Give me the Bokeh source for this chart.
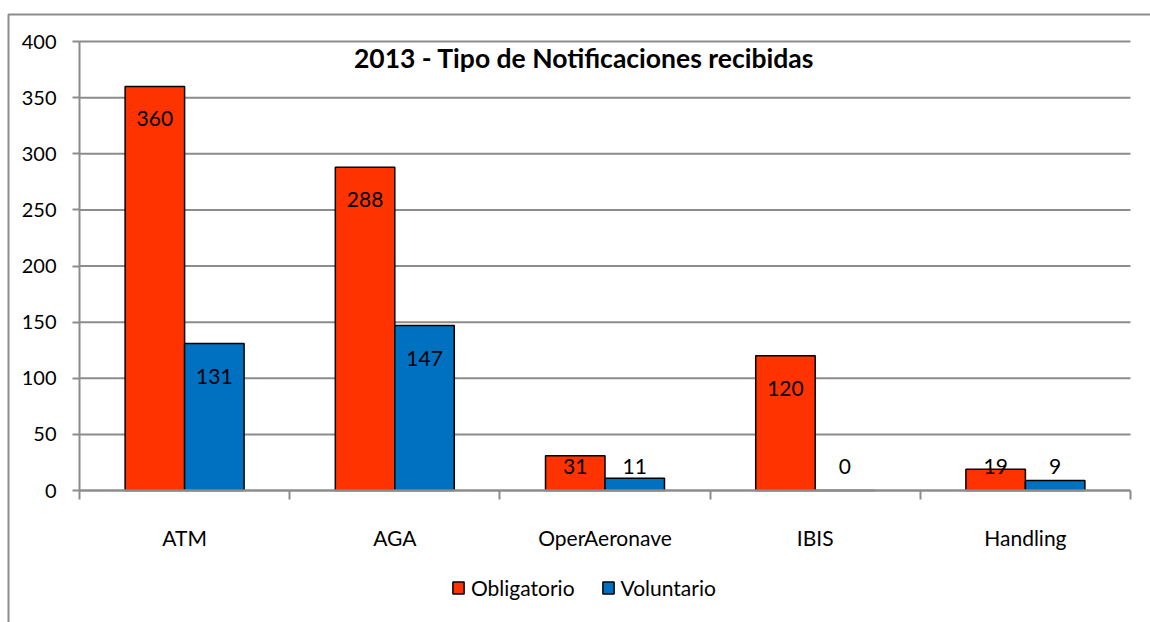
from bokeh.plotting import figure
from bokeh.models import (ColumnDataSource, Range1d, LinearAxis, FixedTicker,
                          Label, Legend, LegendItem)
from bokeh.core.properties import value
from bokeh.embed import file_html
from bokeh.resources import INLINE
import numpy as np

# ---- data ----
categories = ["ATM", "AGA", "OperAeronave", "IBIS", "Handling"]
obligatorio = [360, 288, 31, 120, 19]
voluntario = [131, 147, 11, 0, 9]
series_names = ["Obligatorio", "Voluntario"]
y_ticks = [0, 50, 100, 150, 200, 250, 300, 350, 400]
title_text = "2013 - Tipo de Notificaciones recibidas"

RED = "#FF3300"
BLUE = "#0070C0"
GRAY = "#8c8c8c"
FONT = "Lato"

W, H = 1150, 622
n = len(categories)
ymax = 400

# pixel layout of the plot area inside the canvas
PX_L, PX_R, PX_T, PX_B = 79, 1130, 41, 490
sx = (PX_R - PX_L) / n          # px per category
sy = (PX_B - PX_T) / ymax       # px per unit
x_start = -PX_L / sx
x_end = n + (W - PX_R) / sx
y_end = ymax + PX_T / sy
y_start = -(H - PX_B) / sy

idx = np.arange(n)
bar_w = 0.283
x_obl = idx + 0.5 - bar_w / 2
x_vol = idx + 0.5 + bar_w / 2

def label_pos(vals):
    v = np.array(vals, dtype=float)
    return np.maximum(v - 29, 21.4)

src_o = ColumnDataSource(dict(x=x_obl, top=obligatorio, ly=label_pos(obligatorio),
                              txt=[str(v) for v in obligatorio]))
src_v = ColumnDataSource(dict(x=x_vol, top=voluntario, ly=label_pos(voluntario),
                              txt=[str(v) for v in voluntario]))

p = figure(width=W, height=H, output_backend="svg", toolbar_location=None,
           x_range=Range1d(x_start, x_end), y_range=Range1d(y_start, y_end),
           min_border=0, x_axis_type=None, y_axis_type=None)
p.outline_line_color = None
p.background_fill_color = "white"
p.border_fill_color = "white"
p.xgrid.visible = False if p.xgrid else None

# outer chart-area border (top and left edges)
bx = (8 - PX_L) / sx
by = ymax + (PX_T - 14) / sy
p.line(x=[bx, bx, x_end + 1], y=[y_start - 50, by, by], line_color=GRAY, line_width=2)

# horizontal gridlines spanning the plot area only
gy = y_ticks[1:]
p.segment(x0=[0] * len(gy), y0=gy, x1=[n] * len(gy), y1=gy,
          line_color=GRAY, line_width=2)

r_o = p.vbar(x="x", top="top", width=bar_w, source=src_o, fill_color=RED,
             line_color="black", line_width=1.5)
r_v = p.vbar(x="x", top="top", width=bar_w, source=src_v, fill_color=BLUE,
             line_color="black", line_width=1.5)

# y axis
yax = LinearAxis(ticker=FixedTicker(ticks=y_ticks, minor_ticks=[]),
                 fixed_location=0, bounds=(0, ymax))
yax.axis_line_color = GRAY
yax.axis_line_width = 2
yax.major_tick_line_color = GRAY
yax.major_tick_line_width = 2
yax.major_tick_out = 7
yax.major_tick_in = 0
yax.major_label_standoff = 16
yax.major_label_text_font = FONT
yax.major_label_text_font_size = "20px"
yax.major_label_text_color = "black"
p.add_layout(yax, "left")

# x axis: labels at centers, small ticks at boundaries
xax = LinearAxis(ticker=FixedTicker(ticks=list(idx + 0.5), minor_ticks=list(range(n + 1))),
                 fixed_location=0, bounds=(0, n))
xax.major_label_overrides = {float(i + 0.5): c for i, c in enumerate(categories)}
xax.axis_line_color = GRAY
xax.axis_line_width = 2.5
xax.major_tick_line_color = None
xax.major_tick_out = 0
xax.major_tick_in = 0
xax.minor_tick_line_color = GRAY
xax.minor_tick_line_width = 2
xax.minor_tick_out = 9
xax.minor_tick_in = 0
xax.major_label_standoff = 25
xax.major_label_text_font = FONT
xax.major_label_text_font_size = "21px"
xax.major_label_text_color = "black"
p.add_layout(xax, "below")

for s in (src_o, src_v):
    p.text(x="x", y="ly", text="txt", source=s, text_align="center",
           text_baseline="middle", text_font=value(FONT), text_font_size="21px",
           text_color="black")

title = Label(x=n / 2 - 21 / sx, y=ymax + (PX_T - 57) / sy, text=title_text,
              text_align="center", text_baseline="middle", text_font=FONT,
              text_font_style="bold", text_font_size="26.5px", text_color="black")
p.add_layout(title)

legend = Legend(items=[LegendItem(label=series_names[0], renderers=[r_o]),
                       LegendItem(label=series_names[1], renderers=[r_v])],
                orientation="horizontal", location=(451, 22))
legend.border_line_color = None
legend.background_fill_alpha = 0
legend.padding = 0
legend.margin = 0
legend.spacing = 26
legend.glyph_width = 14
legend.glyph_height = 15
legend.label_height = 15
legend.label_standoff = 6
legend.label_text_font = FONT
legend.label_text_font_size = "21px"
legend.label_text_color = "black"
p.add_layout(legend, "center")

open("out.html", "w").write(file_html(p, INLINE))
